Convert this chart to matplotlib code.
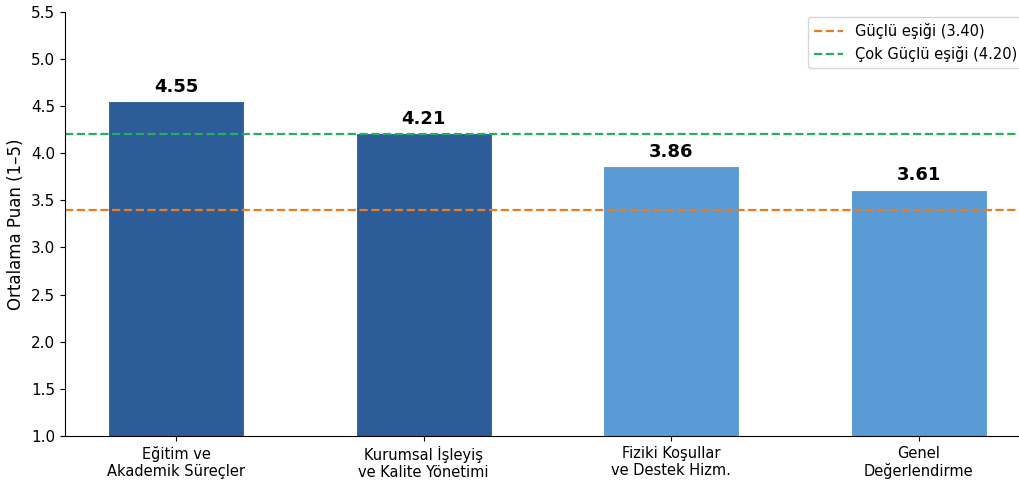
import matplotlib.pyplot as plt

categories = ["Eğitim ve\nAkademik Süreçler", "Kurumsal İşleyiş\nve Kalite Yönetimi",
              "Fiziki Koşullar\nve Destek Hizm.", "Genel\nDeğerlendirme"]
scores = [4.55, 4.21, 3.86, 3.61]
strong = 3.40
very_strong = 4.20

colors = ["#2d5d99" if s >= very_strong else "#5b9bd5" for s in scores]

fig = plt.figure(figsize=(10.2, 4.87), dpi=100)
ax = fig.add_axes([0.0637, 0.105, 0.9363, 0.8705])

x = range(len(categories))
bars = ax.bar(x, scores, width=0.55, color=colors, edgecolor="white", linewidth=0.8)

ax.axhline(strong, color="#e67e22", linestyle="--", linewidth=1.6, label=f"Güçlü eşiği ({strong:.2f})")
ax.axhline(very_strong, color="#27ae60", linestyle="--", linewidth=1.6, label=f"Çok Güçlü eşiği ({very_strong:.2f})")

for b, s in zip(bars, scores):
    ax.text(b.get_x() + b.get_width() / 2, s + 0.06, f"{s:.2f}", ha="center", va="bottom",
            fontsize=13, fontweight="bold")

ax.set_xticks(list(x))
ax.set_xticklabels(categories, fontsize=10.5)
ax.tick_params(axis="y", labelsize=11)
ax.set_ylim(1.0, 5.5)
ax.set_xlim(-0.45, 3.41)
ax.set_ylabel("Ortalama Puan (1–5)", fontsize=12)
ax.spines["top"].set_visible(False)
ax.spines["right"].set_visible(False)
ax.legend(loc="upper right", fontsize=10.5, bbox_to_anchor=(1.011, 1.005))

fig.savefig("out.png", dpi=100)
